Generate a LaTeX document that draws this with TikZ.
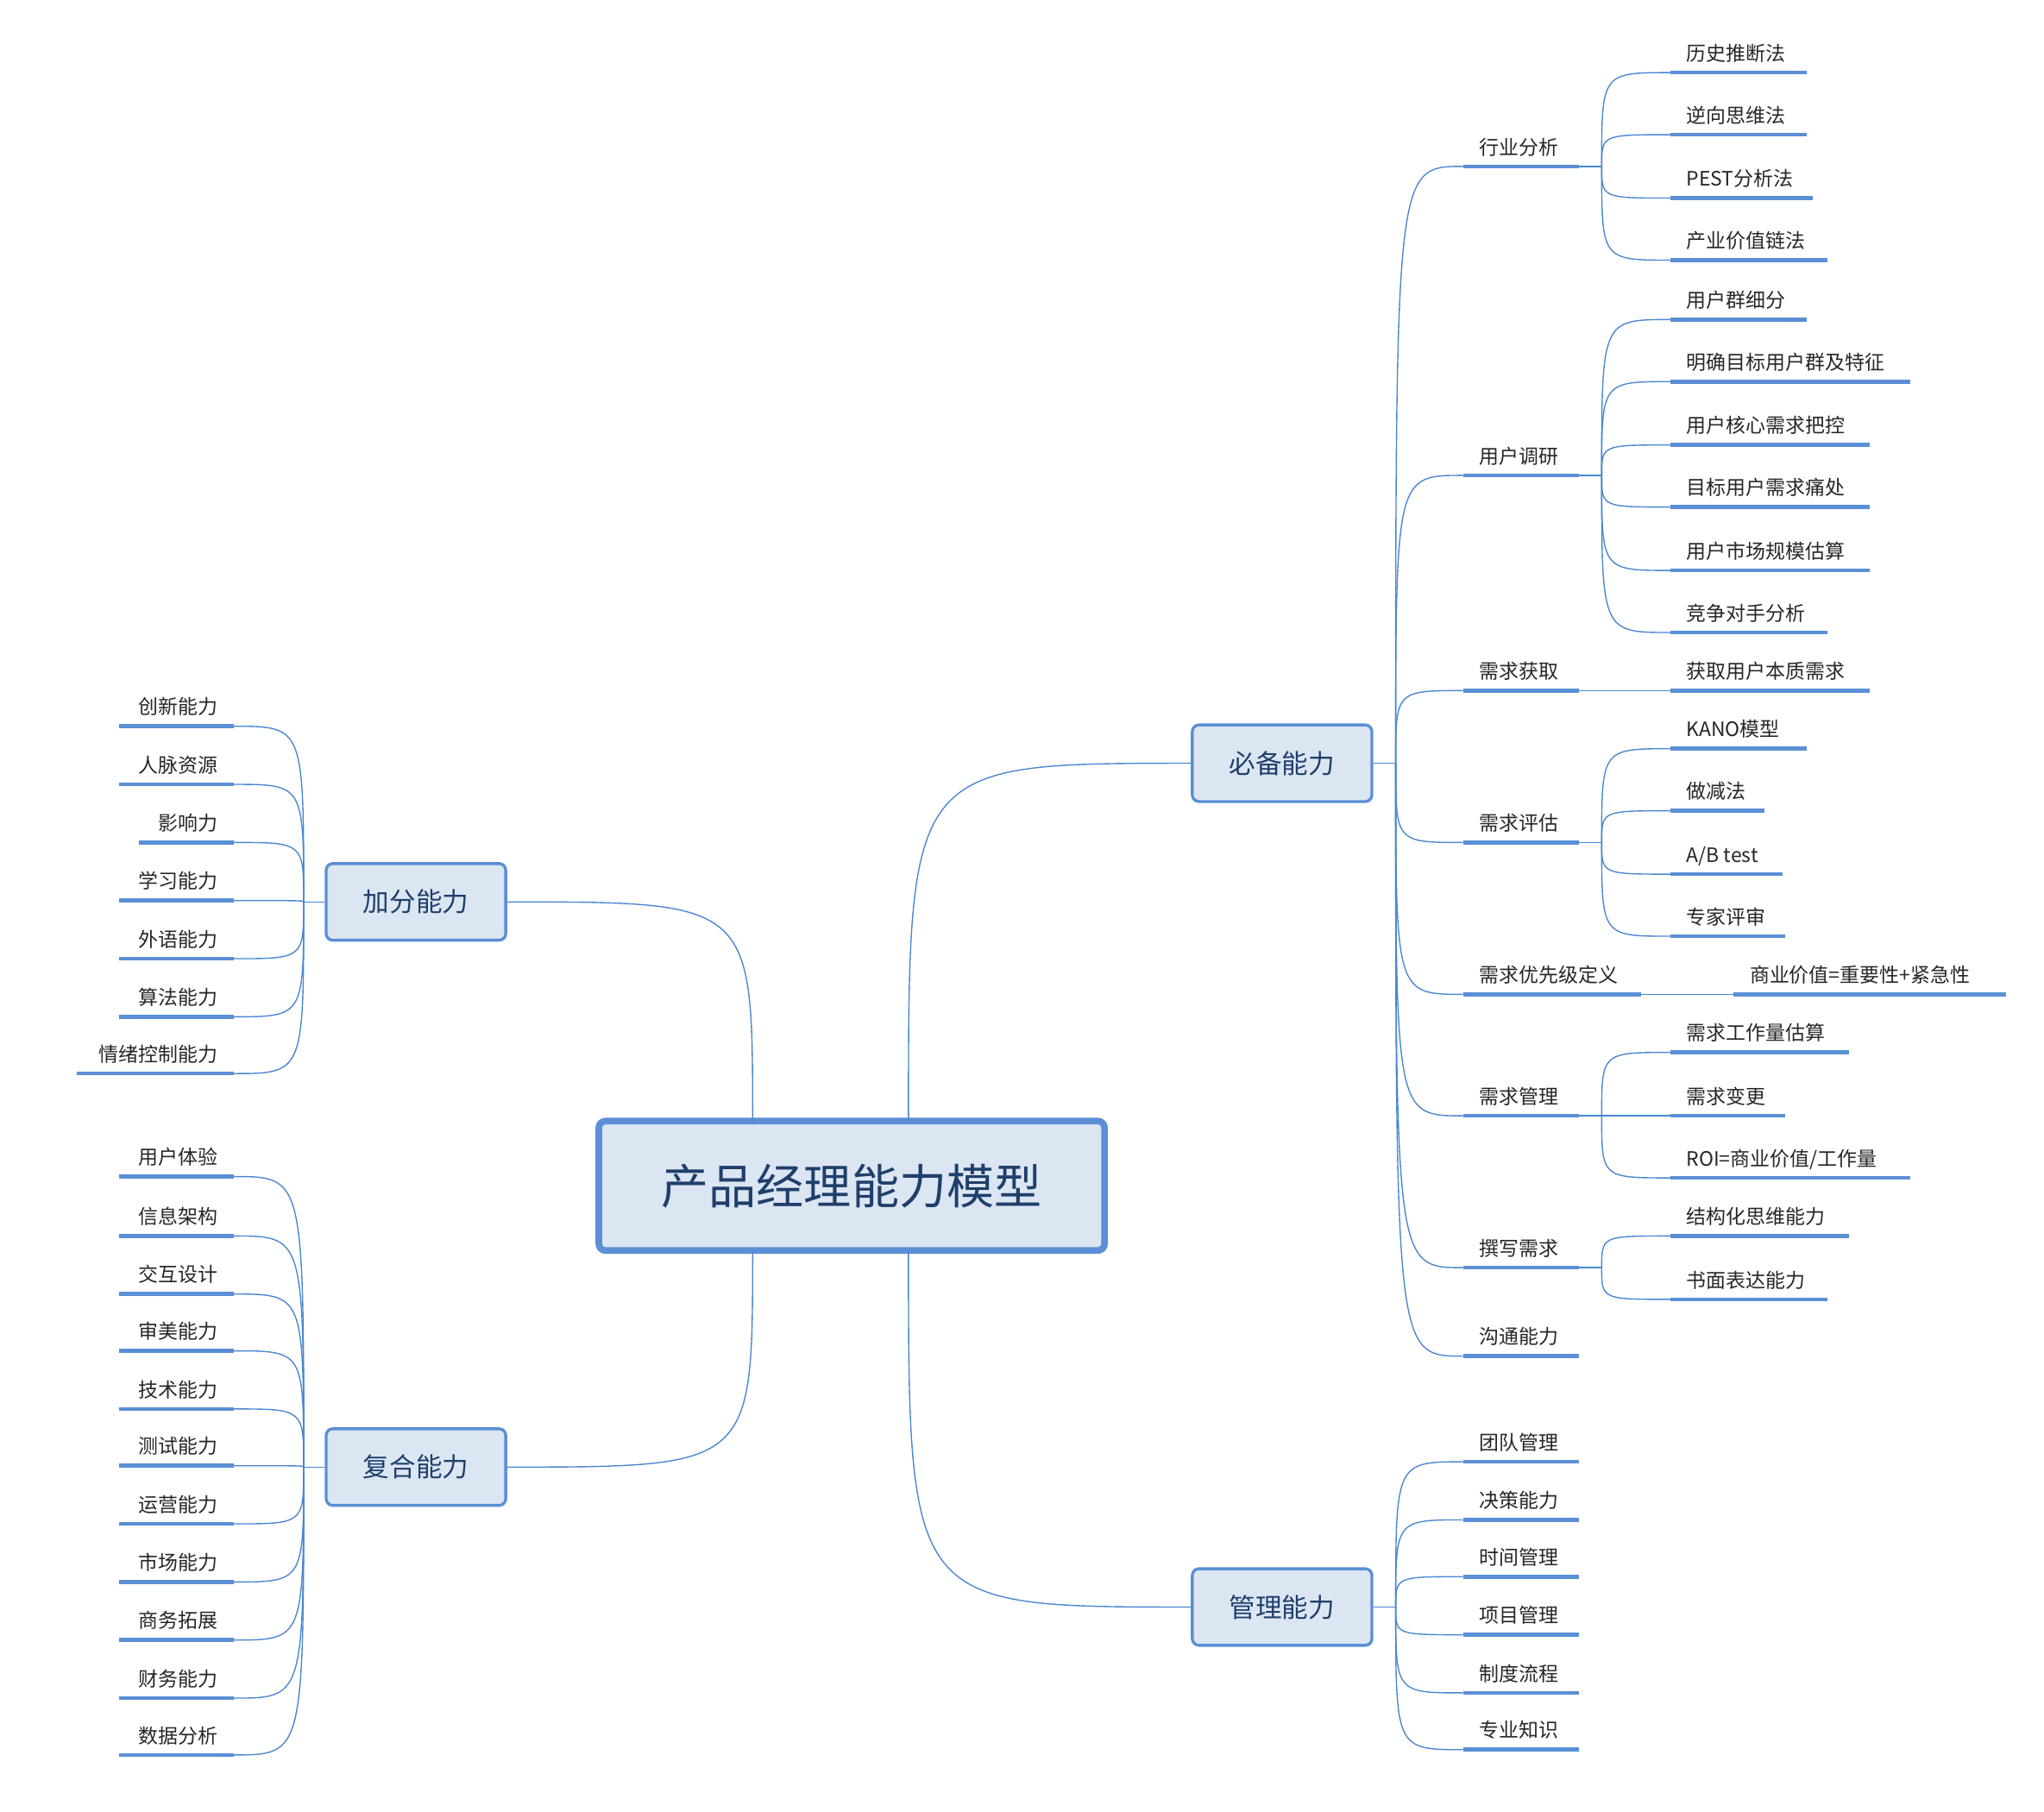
\documentclass[tikz,border=0pt]{standalone}
\usepackage{fontspec}
\setmainfont{Noto Sans CJK SC}
\usetikzlibrary{positioning}
\definecolor{linkblue}{HTML}{4A86D0}
\definecolor{boxfill}{HTML}{DCE6F2}
\definecolor{boxdraw}{HTML}{5B8FD6}
\definecolor{boxtext}{HTML}{1F3F6B}

\begin{document}
\begin{tikzpicture}[x=1pt,y=-1pt,
  link/.style={draw=linkblue,line width=0.9pt},
  uline/.style={draw=boxdraw,line width=3pt},
  leaf/.style={inner sep=0pt,font=\fontsize{15}{15}\selectfont,text=black!85},
  branch/.style={rectangle,rounded corners=5pt,draw=boxdraw,fill=boxfill,line width=2.2pt,minimum width=136pt,minimum height=58pt,font=\fontsize{20}{20}\selectfont,text=boxtext},
  centre/.style={rectangle,rounded corners=5pt,draw=boxdraw,fill=boxfill,line width=5pt,minimum width=383pt,minimum height=98pt,font=\fontsize{36}{36}\selectfont,text=boxtext}]
  \useasboundingbox (0,0) rectangle (1548,1372);
  %% central and branch nodes
  \node at (645,898) [centre] (root) {产品经理能力模型};
  \node at (971,578) [branch] (bibei) {必备能力};
  \node at (971,1217) [branch] (guanli) {管理能力};
  \node at (315,683) [branch] (jiafen) {加分能力};
  \node at (315,1111) [branch] (fuhe) {复合能力};
  \coordinate (rtl) at (570,849); \coordinate (rtr) at (688,849);
  \coordinate (rbl) at (570,947); \coordinate (rbr) at (688,947);
  \draw[link] (rtl) .. controls (570,683) .. (jiafen.east);
  \draw[link] (rtr) .. controls (688,578) .. (bibei.west);
  \draw[link] (rbl) .. controls (570,1111) .. (fuhe.east);
  \draw[link] (rbr) .. controls (688,1217) .. (guanli.west);
  %% junctions
  \coordinate (jb) at (1057,578); \draw[link] (bibei.east) -- (jb);
  \coordinate (jg) at (1057,1217); \draw[link] (guanli.east) -- (jg);
  \coordinate (jj) at (230,683); \draw[link] (jiafen.west) -- (jj);
  \coordinate (jf) at (230,1111); \draw[link] (fuhe.west) -- (jf);
  %% level 2, right
  \foreach \y/\e/\t [count=\i] in {126/1196/行业分析,360/1196/用户调研,523/1196/需求获取,638/1196/需求评估,753/1243/需求优先级定义,845/1196/需求管理,960/1196/撰写需求,1027/1196/沟通能力}{
    \coordinate (b\i s) at (1108,\y); \coordinate (b\i e) at (\e,\y);
    \coordinate (b\i j) at (\e+17,\y);
    \draw[uline] (b\i s) -- (b\i e);
    \node at (1120,\y-9) [leaf,anchor=base west] (b\i) {\t};
    \draw[link] (jb) .. controls (1057,\y) .. (b\i s);
  }
  \foreach \y/\t [count=\i] in {1107/团队管理,1151/决策能力,1194/时间管理,1238/项目管理,1282/制度流程,1325/专业知识}{
    \coordinate (g\i s) at (1108,\y); \coordinate (g\i e) at (1196,\y);
    \draw[uline] (g\i s) -- (g\i e);
    \node at (1120,\y-9) [leaf,anchor=base west] (g\i) {\t};
    \draw[link] (jg) .. controls (1057,\y) .. (g\i s);
  }
  %% level 3, right
  \draw[link] (b1e) -- (b1j); \draw[link] (b2e) -- (b2j); \draw[link] (b4e) -- (b4j);
  \draw[link] (b6e) -- (b6j); \draw[link] (b7e) -- (b7j);
  \foreach \p/\y/\e/\t [count=\i] in {1/55/1368/历史推断法,1/102/1368/逆向思维法,1/150/1373/PEST分析法,1/197/1384/产业价值链法,
    2/242/1368/用户群细分,2/289/1447/明确目标用户群及特征,2/337/1416/用户核心需求把控,2/384/1416/目标用户需求痛处,2/432/1416/用户市场规模估算,2/479/1384/竞争对手分析,
    4/567/1368/KANO模型,4/614/1336/做减法,4/662/1350/{A/B test},4/709/1352/专家评审,
    6/797/1400/需求工作量估算,6/845/1352/需求变更,6/892/1447/{ROI=商业价值/工作量},
    7/936/1400/结构化思维能力,7/984/1384/书面表达能力}{
    \coordinate (c\i s) at (1265,\y); \coordinate (c\i e) at (\e,\y);
    \draw[uline] (c\i s) -- (c\i e);
    \node at (1277,\y-9) [leaf,anchor=base west] (c\i) {\t};
    \draw[link] (b\p j) .. controls (1213,\y) .. (c\i s);
  }
  \coordinate (d1s) at (1265,523); \coordinate (d1e) at (1416,523);
  \draw[uline] (d1s) -- (d1e);
  \node at (1277,514) [leaf,anchor=base west] (d1) {获取用户本质需求};
  \draw[link] (b3e) -- (d1s);
  \coordinate (d2s) at (1313,753); \coordinate (d2e) at (1519,753);
  \draw[uline] (d2s) -- (d2e);
  \node at (1325,744) [leaf,anchor=base west] (d2) {商业价值=重要性+紧急性};
  \draw[link] (b5e) -- (d2s);
  %% left leaves
  \foreach \y/\s/\t [count=\i] in {550/90/创新能力,594/90/人脉资源,638/105/影响力,682/90/学习能力,726/90/外语能力,770/90/算法能力,813/58/情绪控制能力}{
    \coordinate (j\i s) at (\s,\y); \coordinate (j\i e) at (177,\y);
    \draw[uline] (j\i s) -- (j\i e);
    \node at (165,\y-9) [leaf,anchor=base east] (j\i) {\t};
    \draw[link] (jj) .. controls (230,\y) .. (j\i e);
  }
  \foreach \y/\t [count=\i] in {891/用户体验,936/信息架构,980/交互设计,1023/审美能力,1067/技术能力,1110/测试能力,1154/运营能力,1198/市场能力,1242/商务拓展,1286/财务能力,1329/数据分析}{
    \coordinate (f\i s) at (90,\y); \coordinate (f\i e) at (177,\y);
    \draw[uline] (f\i s) -- (f\i e);
    \node at (165,\y-9) [leaf,anchor=base east] (f\i) {\t};
    \draw[link] (jf) .. controls (230,\y) .. (f\i e);
  }
\end{tikzpicture}
\end{document}
